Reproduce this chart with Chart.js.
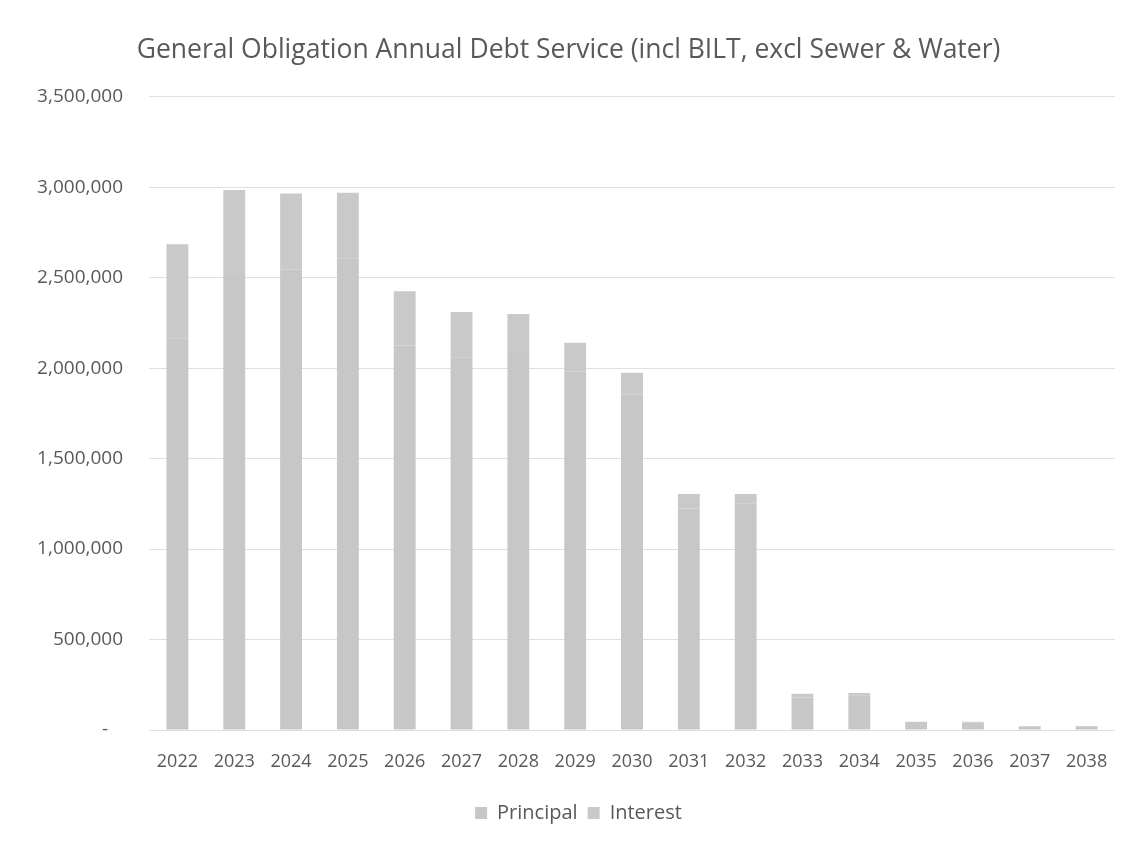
<!DOCTYPE html>
<html lang="en">
<head>
  <meta charset="UTF-8" />
  <title>General Obligation Annual Debt Service</title>
  <style>
    body { margin: 0; background: #fff; }
    #wrap { width: 1137px; height: 850px; }
  </style>
</head>
<body>
  <div id="wrap"><canvas id="chart" width="1137" height="850"></canvas></div>

  <script src="https://cdn.jsdelivr.net/npm/chart.js"></script>
  <script>
    const years = ["2022", "2023", "2024", "2025", "2026", "2027", "2028", "2029", "2030",
                   "2031", "2032", "2033", "2034", "2035", "2036", "2037", "2038"];
    // split between principal and interest is estimated (scan shows both in grey)
    const principal = [2165000, 2515000, 2545000, 2605000, 2125000, 2060000, 2095000, 1980000, 1855000,
                       1225000, 1250000, 180000, 190000, 39000, 40000, 20000, 21000];
    const interest = [520000, 470000, 420000, 365000, 300000, 250000, 205000, 160000, 120000,
                      80000, 55000, 20000, 15000, 6000, 5000, 2000, 1000];
    const yTicks = { min: 0, max: 3500000, step: 500000 };

    const textColor = "#595959";
    const font = "'Open Sans', sans-serif";

    // title and legend are centred on the whole canvas, not on the padded box
    const recentre = {
      id: "recentre",
      afterLayout(chart) {
        chart.titleBlock.left = 0;
        chart.titleBlock.right = chart.width;
        chart.legend.left = 20;
        chart.legend.right = chart.width;
      }
    };

    new Chart(document.getElementById("chart"), {
      type: "bar",
      data: {
        labels: years,
        datasets: [
          { label: "Principal", data: principal, backgroundColor: "#c7c7c7" },
          { label: "Interest", data: interest, backgroundColor: "#c9c9c9" }
        ]
      },
      options: {
        responsive: false,
        animation: false,
        datasets: { bar: { barPercentage: 0.55, categoryPercentage: 0.7 } },
        layout: { padding: { left: 0, right: 22, top: 0, bottom: 17 } },
        plugins: {
          title: {
            display: true,
            text: "General Obligation Annual Debt Service (incl BILT, excl Sewer & Water)",
            color: textColor,
            font: { family: font, size: 26.5, weight: "normal" },
            padding: { top: 35, bottom: 30 }
          },
          legend: {
            position: "bottom",
            labels: {
              color: textColor,
              font: { family: font, size: 20 },
              boxWidth: 12,
              boxHeight: 12,
              padding: 10
            }
          },
          tooltip: { enabled: false }
        },
        scales: {
          x: {
            stacked: true,
            grid: { display: false },
            border: { display: false },
            ticks: { color: textColor, font: { family: font, size: 18 }, padding: 13, maxRotation: 0 },
            afterFit: s => { s.height = 63; }
          },
          y: {
            stacked: true,
            min: yTicks.min,
            max: yTicks.max,
            border: { display: false },
            grid: { color: "#dfdfdf", drawTicks: false },
            ticks: {
              stepSize: yTicks.step,
              color: textColor,
              font: { family: font, size: 19 },
              padding: 26,
              callback: v => v === 0 ? "-   " : v.toLocaleString("en-US")
            },
            afterFit: s => { s.width = 149; }
          }
        }
      },
      plugins: [recentre]
    });
  </script>
</body>
</html>
